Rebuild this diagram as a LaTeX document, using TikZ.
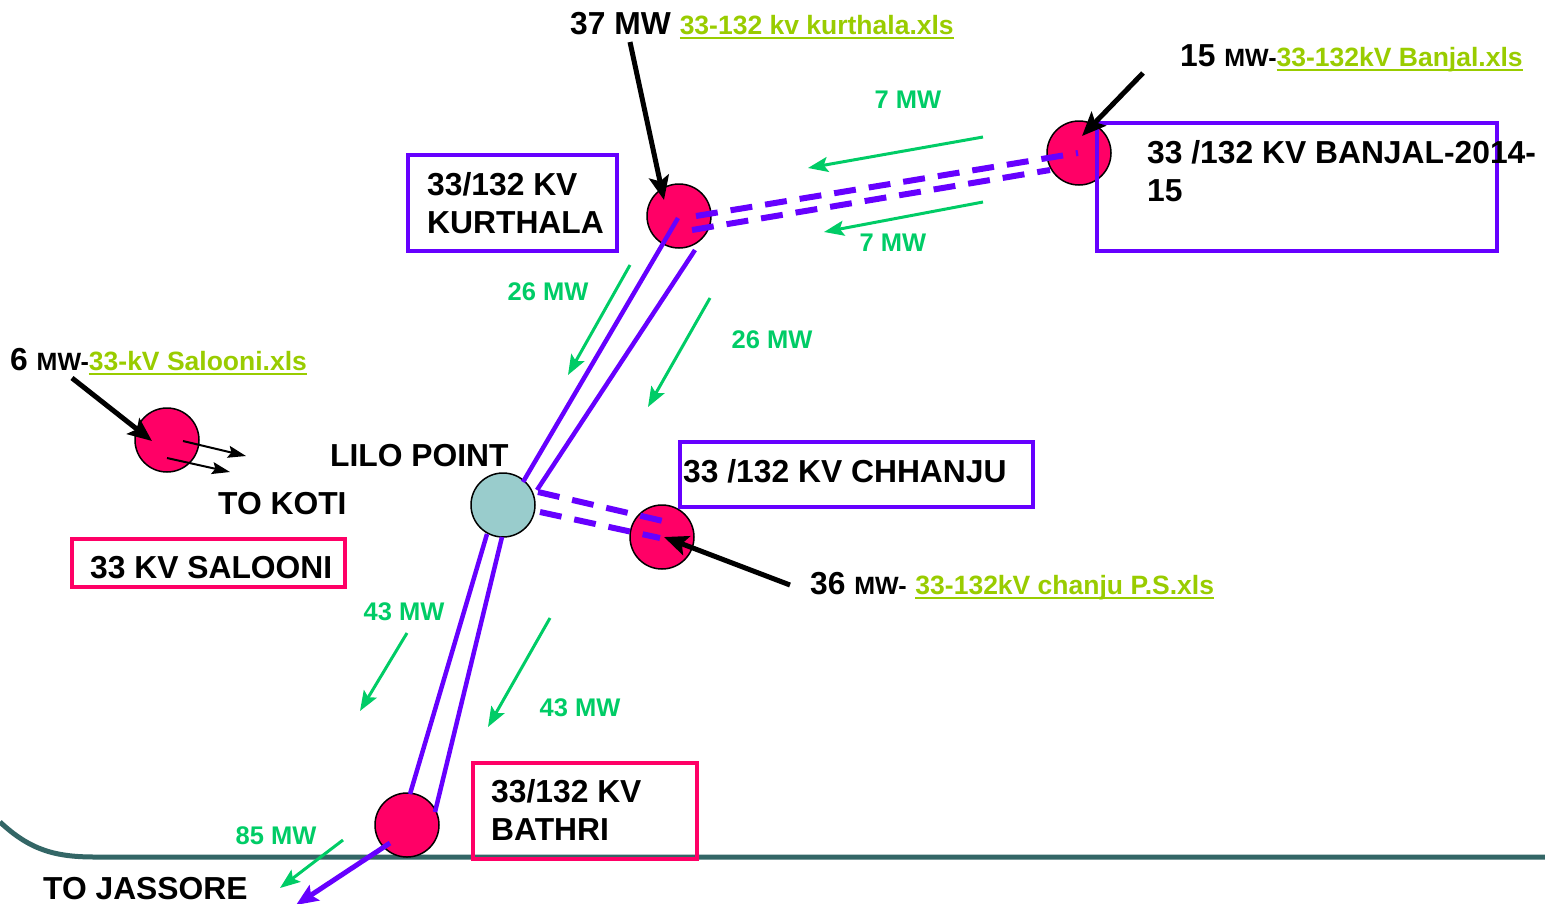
\documentclass[tikz,border=0pt]{standalone}
\usepackage{fontspec}
\setmainfont{Liberation Sans}
\usepackage{xcolor}
\usetikzlibrary{arrows.meta,positioning}
\definecolor{linepurple}{HTML}{6600FF}
\definecolor{subpink}{HTML}{FF0066}
\definecolor{lilocyan}{HTML}{99CCCC}
\definecolor{flowgreen}{HTML}{00CC66}
\definecolor{linkgreen}{HTML}{99CC00}
\definecolor{edgeteal}{HTML}{336666}
\newcommand{\xls}[1]{\textcolor{linkgreen}{\setbox0\hbox{#1}\rlap{\rule[-5pt]{\wd0}{2.5pt}}\box0}}
\newcommand{\smallmw}{{\fontsize{25}{28}\selectfont MW-}}
\tikzset{
  bus/.style={circle, draw=black, line width=1.5pt, fill=subpink, minimum size=64pt, inner sep=0pt},
  purplebox/.style={draw=linepurple, line width=3.5pt, inner sep=0pt, anchor=north west},
  pinkbox/.style={draw=subpink, line width=3.5pt, inner sep=0pt, anchor=north west},
  boxtext/.style={font=\fontsize{31.8}{38}\selectfont\bfseries, align=left, inner sep=0pt},
  mwtext/.style={font=\fontsize{25.5}{30}\selectfont\bfseries, text=flowgreen, inner sep=0pt},
  line132/.style={linepurple, line width=4.5pt},
  linedash/.style={linepurple, line width=6pt, dash pattern=on 22pt off 13pt},
  flow/.style={flowgreen, line width=3pt, -{Stealth[length=20pt,width=15pt,inset=4pt]}},
  feed/.style={black, line width=5pt, -{Stealth[length=24pt,width=20pt,inset=5pt]}},
  thinfeed/.style={black, line width=2pt, -{Stealth[length=18pt,width=12pt,inset=3pt]}}
}
\begin{document}
\begin{tikzpicture}[x=1pt,y=-1pt]
\useasboundingbox (0,0) rectangle (1545,903);
% ground edge
\draw[edgeteal, line width=5pt] (0,822) .. controls (30,850) and (55,857) .. (95,857) -- (1545,857);

% substations
\node[bus] (kur) at (679,216) {};
\node[bus] (ban) at (1079,153) {};
\node[bus] (sal) at (167,440) {};
\node[bus] (chh) at (662,537) {};
\node[bus] (bat) at (407,825) {};
\node[circle, draw=black, line width=1.5pt, fill=lilocyan, minimum size=64pt, inner sep=0pt] (lilo) at (503,505) {};

% boxes
\node[purplebox, minimum width=209pt, minimum height=96pt] (kurbox) at (406,153) {};
\node[purplebox, minimum width=400pt, minimum height=128pt] (banbox) at (1095,121) {};
\node[purplebox, minimum width=353pt, minimum height=65pt] (chhbox) at (678,440) {};
\node[pinkbox, minimum width=273pt, minimum height=48pt] (salbox) at (70,537) {};
\node[pinkbox, minimum width=224pt, minimum height=96pt] (batbox) at (471,761) {};

\node[boxtext, anchor=north west] (kurname) at (427,172) {33/132 KV\\KURTHALA};
\node[boxtext, anchor=north west] (banname) at (1147,140) {33 /132 KV BANJAL-2014-\\15};
\node[boxtext, anchor=base west] (chhname) at (683,482) {33 /132 KV CHHANJU};
\node[boxtext, anchor=base west] (salname) at (90,578) {33 KV SALOONI};
\node[boxtext, anchor=north west] (batname) at (491,779) {33/132 KV\\BATHRI};
\node[boxtext, anchor=base west] (liloname) at (330,466) {LILO POINT};
\node[boxtext, anchor=base west] (koti) at (218,514) {TO KOTI};
\node[boxtext, anchor=base west] (jassore) at (43,899) {TO JASSORE};

% load labels
\node[boxtext, anchor=base west] (kurload) at (570,34) {37 MW {\fontsize{26.5}{30}\selectfont\xls{33-132 kv kurthala.xls}}};
\node[boxtext, anchor=base west] (banload) at (1180,66) {15 \smallmw{\fontsize{26.5}{30}\selectfont\xls{33-132kV Banjal.xls}}};
\node[boxtext, anchor=base west] (salload) at (10,370) {6 \smallmw{\fontsize{26.5}{30}\selectfont\xls{33-kV Salooni.xls}}};
\node[boxtext, anchor=base west] (chhload) at (810,594) {36 \smallmw\ {\fontsize{26.5}{30}\selectfont\xls{33-132kV chanju P.S.xls}}};

% 132 kv lines
\coordinate (kura) at (678,218);
\coordinate (kurb) at (695,250);
\coordinate (liloa) at (523,482);
\coordinate (lilob) at (537,490);
\coordinate (liloc) at (487,534);
\coordinate (lilod) at (502,537);
\coordinate (bata) at (410,794);
\coordinate (batb) at (435,812);
\draw[line132] (kura) -- (liloa);
\draw[line132] (kurb) -- (lilob);
\draw[line132] (liloc) -- (bata);
\draw[line132] (lilod) -- (batb);

% 33 kv lines
\coordinate (kurc) at (696,216);
\coordinate (kurd) at (692,230);
\coordinate (bana) at (1078,153);
\coordinate (banb) at (1050,170);
\draw[linedash] (kurc) -- (bana);
\draw[linedash] (kurd) -- (banb);
\coordinate (liloe) at (538,492);
\coordinate (lilof) at (540,512);
\coordinate (chha) at (663,521);
\coordinate (chhb) at (660,538);
\draw[linedash] (liloe) -- (chha);
\draw[linedash] (lilof) -- (chhb);

% to jassore
\coordinate (batc) at (390,843);
\coordinate (jass) at (296,905);
\draw[linepurple, line width=5pt, -{Stealth[length=22pt,width=18pt,inset=4pt]}] (batc) -- (jass);

% power flows
\draw[flow] (983,137) -- (808,168);
\node[mwtext] (mwa) at (908,100) {7 MW};
\draw[flow] (983,202) -- (824,232);
\node[mwtext] (mwb) at (893,243) {7 MW};
\draw[flow] (630,265) -- (568,375);
\node[mwtext] (mwc) at (548,292) {26 MW};
\draw[flow] (710,298) -- (648,407);
\node[mwtext] (mwd) at (772,340) {26 MW};
\draw[flow] (407,633) -- (360,711);
\node[mwtext] (mwe) at (404,612) {43 MW};
\draw[flow] (550,618) -- (488,727);
\node[mwtext] (mwf) at (580,708) {43 MW};
\draw[flow] (343,840) -- (280,888);
\node[mwtext] (mwg) at (276,836) {85 MW};

% feeders
\coordinate (kurfrom) at (630,42);
\coordinate (kurin) at (664,200);
\draw[feed] (kurfrom) -- (kurin);
\coordinate (banfrom) at (1143,73);
\coordinate (banin) at (1082,136);
\draw[feed] (banfrom) -- (banin);
\coordinate (salfrom) at (72,378);
\coordinate (salin) at (152,441);
\draw[feed] (salfrom) -- (salin);
\coordinate (chhfrom) at (790,585);
\coordinate (chhin) at (664,537);
\draw[feed] (chhfrom) -- (chhin);
\coordinate (kotia) at (183,441);
\coordinate (kotib) at (246,456);
\coordinate (kotic) at (167,458);
\coordinate (kotid) at (230,472);
\draw[thinfeed] (kotia) -- (kotib);
\draw[thinfeed] (kotic) -- (kotid);
\end{tikzpicture}
\end{document}
